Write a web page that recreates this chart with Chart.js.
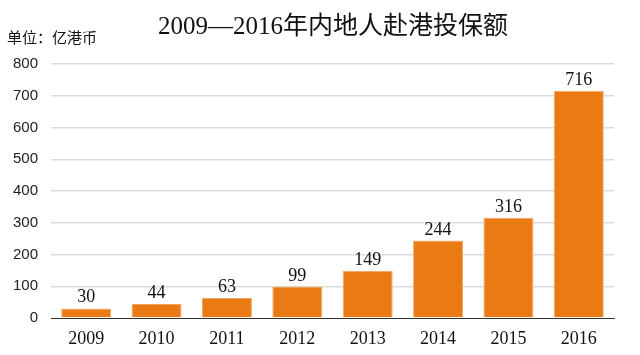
<!DOCTYPE html>
<html>
<head>
<meta charset="utf-8">
<script src="https://cdn.jsdelivr.net/npm/chart.js@4/dist/chart.umd.min.js"></script>
<style>
html,body{margin:0;padding:0;background:#fff;}
#wrap{width:640px;height:355px;position:relative;}
</style>
</head>
<body>
<div id="wrap"><canvas id="c" width="640" height="355"></canvas></div>
<script>
const years = ['2009','2010','2011','2012','2013','2014','2015','2016'];
const amounts = [30, 44, 63, 99, 149, 244, 316, 716];
const yTicks = [0, 100, 200, 300, 400, 500, 600, 700, 800];
const titleText = '2009—2016年内地人赴港投保额';
const unitText = '单位：亿港币';

const textPlugin = {
  id: 'texts',
  afterDraw(chart) {
    const ctx = chart.ctx;
    ctx.save();
    ctx.fillStyle = '#111';
    ctx.textBaseline = 'middle';
    ctx.textAlign = 'center';
    ctx.font = '25px "Liberation Serif", "Noto Sans CJK SC", serif';
    ctx.fillText(titleText, 333, 27);
    ctx.textAlign = 'left';
    ctx.font = '15px "Noto Sans CJK SC", sans-serif';
    ctx.fillText(unitText, 7, 37);
    // value labels
    const meta = chart.getDatasetMeta(0);
    ctx.font = '18px "Liberation Serif", serif';
    ctx.textAlign = 'center';
    ctx.textBaseline = 'alphabetic';
    meta.data.forEach((bar, i) => {
      ctx.fillText(String(amounts[i]), bar.x, bar.y - 6);
    });
    ctx.restore();
  }
};

new Chart(document.getElementById('c'), {
  type: 'bar',
  data: {
    labels: years,
    datasets: [{
      data: amounts,
      backgroundColor: '#E97A14',
      borderColor: '#F2A462',
      borderWidth: 1,
      categoryPercentage: 1,
      barPercentage: 0.71
    }]
  },
  options: {
    responsive: false,
    animation: false,
    devicePixelRatio: 1,
    layout: { padding: { top: 64, right: 26, left: 0, bottom: 0 } },
    plugins: { legend: { display: false }, tooltip: { enabled: false }, title: { display: false } },
    scales: {
      x: {
        grid: { display: false, drawTicks: false },
        border: { display: true, color: '#333', width: 1 },
        ticks: { color: '#111', font: { family: '"Liberation Serif", serif', size: 18 }, padding: 10, maxRotation: 0 },
        afterFit(s) { s.height = 37; }
      },
      y: {
        min: 0, max: 800,
        afterBuildTicks(s) { s.ticks = yTicks.map(v => ({ value: v })); },
        grid: {
          drawTicks: false,
          color: (c) => c.tick && c.tick.value === 0 ? 'rgba(0,0,0,0)' : '#dcdcdc',
          lineWidth: 1.5
        },
        border: { display: false },
        ticks: { color: '#222', font: { family: '"Liberation Sans", Arial, sans-serif', size: 15 }, padding: 13 },
        afterFit(s) { s.width = 51; }
      }
    }
  },
  plugins: [textPlugin]
});
</script>
</body>
</html>
